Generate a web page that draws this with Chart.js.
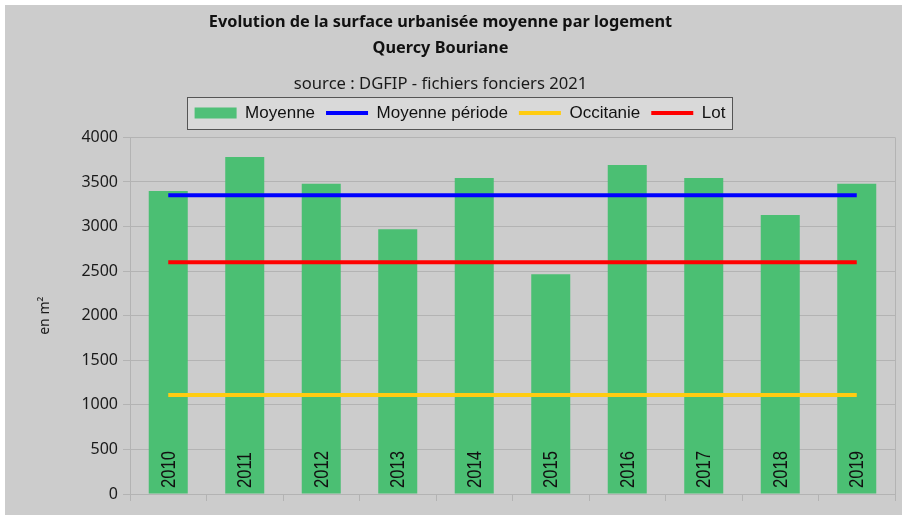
<!DOCTYPE html>
<html><head><meta charset="utf-8">
<script src="https://cdn.jsdelivr.net/npm/chart.js@4/dist/chart.umd.min.js"></script>
<style>
html,body{margin:0;padding:0;background:#fff;overflow:hidden;width:902px;height:515px}
#wrap{position:absolute;left:5px;top:5px}
</style></head><body>
<div id="wrap"><canvas id="c" width="910" height="510"></canvas></div>
<script>
const categories = ['2010','2011','2012','2013','2014','2015','2016','2017','2018','2019'];
const moyenne = [3400, 3780, 3480, 2970, 3545, 2465, 3690, 3545, 3130, 3480];
const moyennePeriode = [3350, 3350, 3350, 3350, 3350, 3350, 3350, 3350, 3350, 3350];
const occitanie = [1110, 1110, 1110, 1110, 1110, 1110, 1110, 1110, 1110, 1110];
const lot = [2600, 2600, 2600, 2600, 2600, 2600, 2600, 2600, 2600, 2600];
const yTicks = [0, 500, 1000, 1500, 2000, 2500, 3000, 3500, 4000];
const seriesNames = ['Moyenne', 'Moyenne période', 'Occitanie', 'Lot'];
const titleLines = ['Evolution de la surface urbanisée moyenne par logement', 'Quercy Bouriane'];
const subtitleText = 'source : DGFIP - fichiers fonciers 2021';
const yTitle = 'en m²';

Chart.defaults.font.family = "'Noto Sans', sans-serif";
Chart.defaults.color = '#1a1a1a';

const GRID = '#b3b3b3';

const bgPlugin = {
  id: 'bg',
  beforeLayout(chart) {
    const lg = chart.legend;
    if (lg && !lg._patched) {
      const f = lg.fit;
      lg.fit = function () { f.call(this); this.height += 6; };
      lg._patched = true;
    }
  },
  afterLayout(chart) {
    chart.boxes.forEach(b => {
      if (!b.options) return;
      if (b.options.text === titleLines || b.options.text === subtitleText) {
        b.right -= 19;
      } else if (b === chart.legend) {
        b.left += 10; b.right += 10;
      }
    });
  },
  beforeDraw(chart) {
    const ctx = chart.ctx;
    ctx.save();
    ctx.fillStyle = '#cccccc';
    ctx.fillRect(0, 0, chart.width, chart.height);
    const hb = chart.legend.legendHitBoxes;
    if (hb && hb.length) {
      let l = Infinity, r = -Infinity, cy = hb[0].top + hb[0].height / 2;
      hb.forEach(b => { l = Math.min(l, b.left); r = Math.max(r, b.left + b.width); });
      const x0 = Math.round(l - 8) + 0.5, x1 = Math.round(r + 7) + 0.5;
      const y0 = Math.round(cy - 16) + 0.5, y1 = Math.round(cy + 16) + 0.5;
      ctx.fillStyle = '#d9d9d9';
      ctx.fillRect(x0, y0, x1 - x0, y1 - y0);
      ctx.strokeStyle = '#555555';
      ctx.lineWidth = 1;
      ctx.strokeRect(x0, y0, x1 - x0, y1 - y0);
    }
    ctx.restore();
  },
  beforeDatasetsDraw(chart) {
    const ctx = chart.ctx, a = chart.chartArea;
    ctx.save();
    ctx.strokeStyle = GRID;
    ctx.lineWidth = 1;
    ctx.beginPath();
    ctx.moveTo(Math.round(a.right) + 0.5, a.top);
    ctx.lineTo(Math.round(a.right) + 0.5, a.bottom);
    ctx.stroke();
    ctx.restore();
  },
  afterDatasetsDraw(chart) {
    const ctx = chart.ctx;
    const meta = chart.getDatasetMeta(0);
    const y0 = chart.scales.y.getPixelForValue(0);
    ctx.save();
    ctx.fillStyle = '#111';
    ctx.font = "20px 'Liberation Sans', Arial, sans-serif";
    ctx.textAlign = 'left';
    ctx.textBaseline = 'middle';
    meta.data.forEach((bar, i) => {
      ctx.save();
      ctx.translate(bar.x + 1, y0 - 6);
      ctx.rotate(-Math.PI / 2);
      ctx.scale(0.83, 1);
      ctx.fillText(categories[i], 0, 0);
      ctx.restore();
    });
    ctx.restore();
  }
};

const lineDs = (label, data, color) => ({
  type: 'line', label, data,
  borderColor: color, backgroundColor: color, borderWidth: 4,
  pointRadius: 0, pointHoverRadius: 0, fill: false, tension: 0, borderCapStyle: 'butt'
});

new Chart(document.getElementById('c'), {
  type: 'bar',
  data: {
    labels: categories,
    datasets: [
      { type: 'bar', label: seriesNames[0], data: moyenne, backgroundColor: '#4bbf73', borderWidth: 0,
        categoryPercentage: 1, barPercentage: 0.51, order: 5 },
      Object.assign(lineDs(seriesNames[1], moyennePeriode, '#0000ff'), { order: 1 }),
      Object.assign(lineDs(seriesNames[2], occitanie, '#ffcc11'), { order: 1 }),
      Object.assign(lineDs(seriesNames[3], lot, '#ff0000'), { order: 1 })
    ]
  },
  plugins: [bgPlugin],
  options: {
    responsive: false,
    animation: false,
    events: [],
    layout: { padding: { top: 0, left: 0, right: 20, bottom: 14 } },
    plugins: {
      tooltip: { enabled: false },
      title: {
        display: true, text: titleLines, color: '#111',
        font: { size: 16.3, weight: 'bold', lineHeight: 1.63 },
        padding: { top: 4, bottom: 12 }
      },
      subtitle: {
        display: true, text: subtitleText, color: '#1a1a1a',
        font: { size: 16.6, lineHeight: 1.16 },
        padding: { top: 0, bottom: 0 }
      },
      legend: {
        display: true, position: 'top',
        labels: {
          usePointStyle: true, pointStyleWidth: 42, boxHeight: 11,
          padding: 11, color: '#111',
          font: { family: "'Liberation Sans', Arial, sans-serif", size: 17 },
          generateLabels(chart) {
            const items = Chart.defaults.plugins.legend.labels.generateLabels(chart);
            items.forEach(it => {
              const ds = chart.data.datasets[it.datasetIndex];
              if (ds.type === 'line') {
                it.pointStyle = 'line'; it.lineWidth = 4; it.strokeStyle = ds.borderColor; it.fillStyle = ds.borderColor;
              } else {
                it.pointStyle = 'rect'; it.lineWidth = 0; it.fillStyle = '#50c078'; it.strokeStyle = '#50c078';
              }
            });
            return items.sort((a, b) => a.datasetIndex - b.datasetIndex);
          }
        }
      }
    },
    scales: {
      x: {
        offset: true,
        grid: { display: true, drawOnChartArea: false, drawTicks: true, tickLength: 7, color: GRID, offset: true },
        border: { display: true, color: GRID },
        ticks: { display: false }
      },
      y: {
        min: 0, max: 4000,
        afterBuildTicks(s) { s.ticks = yTicks.map(v => ({ value: v })); },
        afterFit(s) { s.width = 125; },
        ticks: { padding: 5, color: '#1a1a1a', font: { size: 16 }, callback: v => String(v) },
        grid: { color: GRID, tickLength: 7, drawTicks: true },
        border: { display: true, color: GRID },
        title: { display: true, text: yTitle, color: '#1a1a1a', font: { size: 14 }, padding: { top: 32, bottom: 0 } }
      }
    }
  }
});
</script>
</body></html>
